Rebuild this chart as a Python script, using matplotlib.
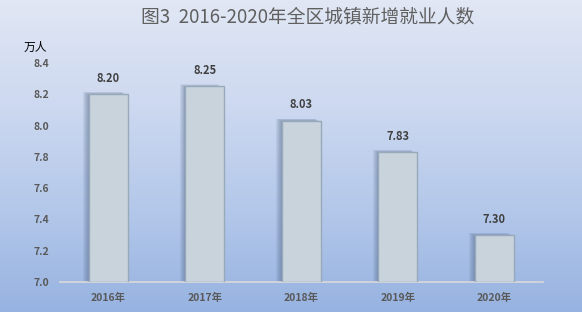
import numpy as np
import matplotlib
matplotlib.use("Agg")
import matplotlib.pyplot as plt
from matplotlib.colors import LinearSegmentedColormap

plt.rcParams['font.family'] = ['Noto Sans CJK SC', 'DejaVu Sans']

# --- DATA ---
years = ["2016年", "2017年", "2018年", "2019年", "2020年"]
jobs = [8.20, 8.25, 8.03, 7.83, 7.30]
y_ticks = [7.0, 7.2, 7.4, 7.6, 7.8, 8.0, 8.2, 8.4]

TITLE = "图3  2016-2020年全区城镇新增就业人数"
UNIT = "万人"

W, H = 582, 312
fig = plt.figure(figsize=(W / 100, H / 100), dpi=100)

# gradient background
bg = fig.add_axes([0, 0, 1, 1], zorder=-10)
grad_cmap = LinearSegmentedColormap.from_list(
    "bg", ["#e1e7f4", "#cdd9f0", "#b4c8ea", "#97b3e1"])
bg.imshow(np.linspace(0, 1, 256).reshape(-1, 1), aspect="auto",
          cmap=grad_cmap, extent=[0, 1, 0, 1], origin="upper")
bg.axis("off")

ax = fig.add_axes([60 / W, 1 - 282 / H, 482.5 / W, 219 / H])
ax.patch.set_alpha(0)
x = np.arange(len(years))
bar_w = 0.4
base = 7.0

# soft shadow on the left side of each bar
for k in range(6):
    off = 0.010 * (k + 1)
    ax.bar(x - off, np.array(jobs) - base + 0.003 * k, bottom=base, width=bar_w,
           color="#55698a", alpha=0.10, linewidth=0, zorder=1)

ax.bar(x, np.array(jobs) - base, bottom=base, width=bar_w, color="#c8d3dc",
       edgecolor="#98a9b9", linewidth=1.0, zorder=3)

for xi, v in zip(x, jobs):
    ax.text(xi, v + 0.06, f"{v:.2f}", ha="center", va="bottom", fontsize=8,
            fontweight="bold", color="#404040", zorder=4)

ax.set_xlim(-0.5, len(years) - 0.5)
ax.set_ylim(7.0, 8.4)
ax.set_yticks(y_ticks)
ax.set_yticklabels([f"{t:.1f}" for t in y_ticks], fontsize=7.5,
                   fontweight="bold", color="#595959")
ax.set_xticks(x)
ax.set_xticklabels(years, fontsize=7.5, fontweight="bold", color="#595959")
ax.tick_params(length=0)
ax.tick_params(axis="y", pad=8)
ax.tick_params(axis="x", pad=8)
for s in ["top", "right", "left"]:
    ax.spines[s].set_visible(False)
ax.spines["bottom"].set_color("#d9d9d9")
ax.spines["bottom"].set_linewidth(1.2)

fig.text(308 / W, 1 - 17 / H, TITLE, ha="center", va="center", fontsize=13.5,
         color="#606060")
fig.text(35 / W, 1 - 47 / H, UNIT, ha="center", va="center", fontsize=8.5,
         color="#000000")

fig.savefig("out.png", dpi=100)
